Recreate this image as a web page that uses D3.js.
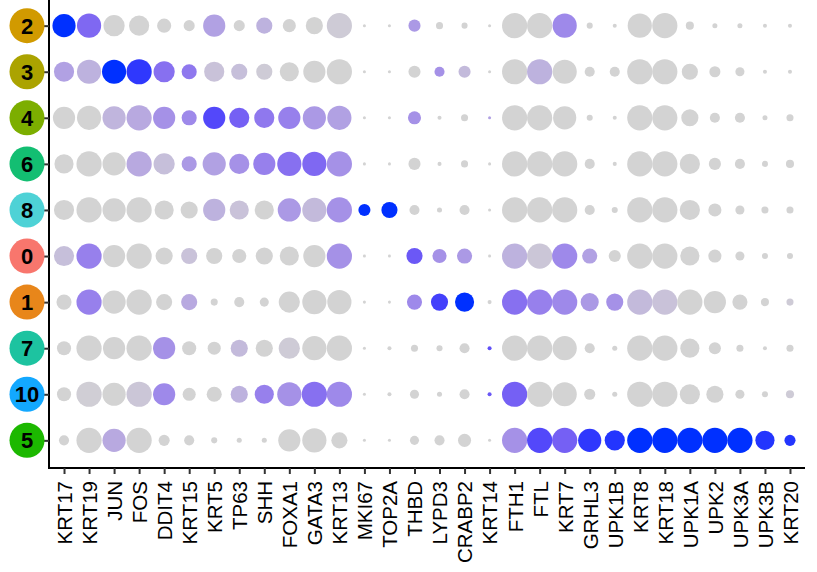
<!DOCTYPE html>
<html>
<head>
<meta charset="utf-8">
<script src="https://cdn.jsdelivr.net/npm/d3@7"></script>
<style>
    body { margin: 0; background: #fff; }
    svg { display: block; font-family: "Liberation Sans", Arial, sans-serif; }
</style>
</head>
<body>
<div id="chart"></div>
<script>

const width = 817
const height = 572

const genes = ["KRT17", "KRT19", "JUN", "FOS", "DDIT4", "KRT15", "KRT5", "TP63", "SHH", "FOXA1",
    "GATA3", "KRT13", "MKI67", "TOP2A", "THBD", "LYPD3", "CRABP2", "KRT14", "FTH1", "FTL",
    "KRT7", "GRHL3", "UPK1B", "KRT8", "KRT18", "UPK1A", "UPK2", "UPK3A", "UPK3B", "KRT20"]

const clusters = ["2", "3", "4", "6", "8", "0", "1", "7", "10", "5"]
const clusterColors = ["#D19A00", "#ABA300", "#7CAE00", "#13BE72", "#4ED2D6", "#F8766D", "#E8861A", "#1DC3A0", "#13A8FF", "#1CB800"]

// percent expressed, one array per cluster (same order as genes)
const pct2 = [92, 96, 84, 80, 56, 44, 88, 44, 64, 52, 68, 100, 12, 12, 48, 28, 24, 12, 100, 100, 96, 24, 16, 96, 100, 32, 20, 20, 16, 16]
const pct3 = [80, 96, 96, 100, 84, 60, 80, 64, 64, 76, 88, 100, 12, 12, 48, 40, 48, 12, 100, 100, 96, 40, 40, 100, 100, 64, 44, 36, 16, 16]
const pct4 = [88, 96, 92, 100, 88, 60, 88, 80, 80, 88, 92, 96, 12, 12, 52, 16, 28, 12, 100, 100, 92, 24, 16, 100, 100, 68, 40, 40, 20, 28]
const pct6 = [76, 100, 92, 100, 84, 60, 92, 80, 88, 96, 96, 100, 12, 12, 48, 16, 28, 12, 100, 100, 100, 40, 16, 100, 100, 80, 48, 40, 24, 32]
const pct8 = [80, 100, 92, 100, 76, 68, 88, 76, 76, 92, 96, 100, 48, 64, 40, 20, 40, 12, 100, 100, 100, 40, 24, 100, 100, 80, 52, 36, 28, 28]
const pct0 = [80, 100, 88, 100, 68, 64, 64, 56, 68, 76, 88, 100, 12, 12, 64, 56, 60, 12, 100, 100, 100, 60, 48, 100, 100, 76, 52, 36, 24, 24]
const pct1 = [60, 100, 92, 100, 64, 64, 28, 40, 36, 84, 96, 96, 12, 12, 60, 68, 76, 16, 100, 100, 100, 72, 68, 100, 100, 100, 88, 60, 32, 28]
const pct7 = [56, 100, 88, 100, 88, 56, 52, 68, 68, 84, 96, 100, 12, 16, 28, 24, 40, 16, 100, 100, 96, 40, 20, 100, 100, 76, 48, 28, 16, 28]
const pct10 = [56, 100, 92, 100, 88, 52, 60, 68, 76, 96, 100, 100, 12, 16, 36, 20, 40, 16, 100, 100, 96, 44, 20, 100, 100, 80, 68, 36, 24, 32]
const pct5 = [40, 100, 92, 100, 44, 40, 24, 20, 20, 88, 96, 64, 12, 12, 36, 40, 52, 12, 100, 100, 100, 92, 80, 100, 100, 100, 100, 100, 76, 44]

// scaled average expression (0 = low, 1 = high)
const exp2 = [1, 0.65, 0, 0, 0, 0, 0.3, 0, 0.2, 0, 0, 0.05, 0, 0, 0.35, 0, 0, 0, 0, 0, 0.45, 0, 0, 0, 0, 0, 0, 0, 0, 0]
const exp3 = [0.3, 0.2, 1, 0.95, 0.6, 0.55, 0.1, 0.12, 0.05, 0, 0, 0, 0, 0, 0, 0.4, 0.15, 0, 0, 0.2, 0, 0, 0, 0, 0, 0, 0, 0, 0, 0]
const exp4 = [0, 0, 0.18, 0.25, 0.4, 0.45, 0.85, 0.7, 0.55, 0.5, 0.35, 0.3, 0, 0, 0.4, 0, 0, 0.3, 0, 0, 0, 0, 0, 0, 0, 0, 0, 0, 0, 0]
const exp6 = [0, 0, 0, 0.25, 0.12, 0.35, 0.3, 0.4, 0.5, 0.6, 0.65, 0.4, 0, 0, 0, 0, 0, 0, 0, 0, 0, 0, 0, 0, 0, 0, 0, 0, 0, 0]
const exp8 = [0, 0, 0, 0, 0, 0, 0.2, 0.1, 0, 0.35, 0.15, 0.4, 1, 1, 0, 0, 0, 0, 0, 0, 0, 0, 0, 0, 0, 0, 0, 0, 0, 0]
const exp0 = [0.12, 0.5, 0, 0, 0, 0.1, 0, 0, 0, 0, 0, 0.4, 0, 0, 0.75, 0.4, 0.35, 0, 0.2, 0.08, 0.45, 0.3, 0, 0, 0, 0, 0, 0, 0, 0]
const exp1 = [0, 0.5, 0, 0, 0, 0.25, 0, 0, 0, 0, 0, 0, 0, 0, 0.45, 0.9, 1, 0, 0.6, 0.5, 0.45, 0.35, 0.4, 0.15, 0.1, 0, 0, 0, 0, 0.05]
const exp7 = [0, 0, 0, 0, 0.4, 0, 0, 0.15, 0, 0.05, 0, 0, 0, 0, 0, 0, 0, 0.8, 0, 0, 0, 0, 0, 0, 0, 0, 0, 0, 0, 0]
const exp10 = [0, 0.03, 0, 0.08, 0.45, 0, 0, 0.2, 0.5, 0.4, 0.6, 0.45, 0, 0, 0, 0, 0, 0.75, 0.7, 0, 0, 0, 0, 0, 0, 0, 0, 0, 0, 0.05]
const exp5 = [0, 0, 0.25, 0, 0, 0, 0, 0, 0, 0, 0, 0, 0, 0, 0, 0, 0, 0, 0.4, 0.85, 0.7, 0.95, 0.97, 1, 1, 1, 1, 1, 0.97, 0.97]

const pctRows = [pct2, pct3, pct4, pct6, pct8, pct0, pct1, pct7, pct10, pct5]
const expRows = [exp2, exp3, exp4, exp6, exp8, exp0, exp1, exp7, exp10, exp5]

const plot = { left: 49, right: 805, top: -2, bottom: 468 }

const x = d3.scalePoint().domain(genes).range([plot.left, plot.right]).padding(0.6)
const y = d3.scalePoint().domain(clusters).range([plot.top, plot.bottom]).padding(0.6)
const r = d3.scaleLinear().domain([0, 100]).range([0, 12.6])
const color = d3.scaleLinear().domain([0, 1]).range(["lightgrey", "#0030ff"]).interpolate(d3.interpolateLab)

const cells = []
clusters.forEach((c, i) => {
    genes.forEach((g, j) => {
        cells.push({ cluster: c, gene: g, pct: pctRows[i][j], exp: expRows[i][j] })
    })
})

const svg = d3.select("#chart").append("svg")
    .attr("width", width)
    .attr("height", height)

// dots
svg.append("g").selectAll("circle")
    .data(cells)
    .join("circle")
    .attr("cx", d => x(d.gene))
    .attr("cy", d => y(d.cluster))
    .attr("r", d => r(d.pct))
    .attr("fill", d => color(d.exp))

// bottom axis
const xAxis = svg.append("g")
    .attr("transform", `translate(0,${plot.bottom})`)
    .call(d3.axisBottom(x).tickSize(6).tickSizeOuter(0))
xAxis.select(".domain").attr("stroke", "#000").attr("stroke-width", 2)
    .attr("d", `M${plot.left - 1},0H${plot.right}`)
xAxis.selectAll(".tick line").attr("stroke", "#333").attr("stroke-width", 2)
xAxis.selectAll(".tick text")
    .attr("transform", "rotate(-90)")
    .attr("x", -13)
    .attr("y", 0)
    .attr("dy", "0.36em")
    .attr("text-anchor", "end")
    .attr("fill", "#000")
    .style("font-size", "20.5px")

// left axis
const yAxis = svg.append("g")
    .attr("transform", `translate(${plot.left},0)`)
    .call(d3.axisLeft(y).tickSize(5).tickSizeOuter(0))
yAxis.select(".domain").attr("stroke", "#000").attr("stroke-width", 2)
    .attr("d", `M0,0V${plot.bottom}`)
yAxis.selectAll(".tick line").attr("stroke", "#333").attr("stroke-width", 2)
yAxis.selectAll(".tick text").remove()

// cluster badges
const badge = svg.append("g").selectAll("g")
    .data(clusters)
    .join("g")
    .attr("transform", d => `translate(27,${y(d)})`)
badge.append("circle")
    .attr("r", 17.5)
    .attr("fill", (d, i) => clusterColors[i])
badge.append("text")
    .attr("text-anchor", "middle")
    .attr("dy", "0.36em")
    .attr("fill", "#000")
    .style("font-size", "22px")
    .style("font-weight", "bold")
    .text(d => d)

</script>
</body>
</html>
